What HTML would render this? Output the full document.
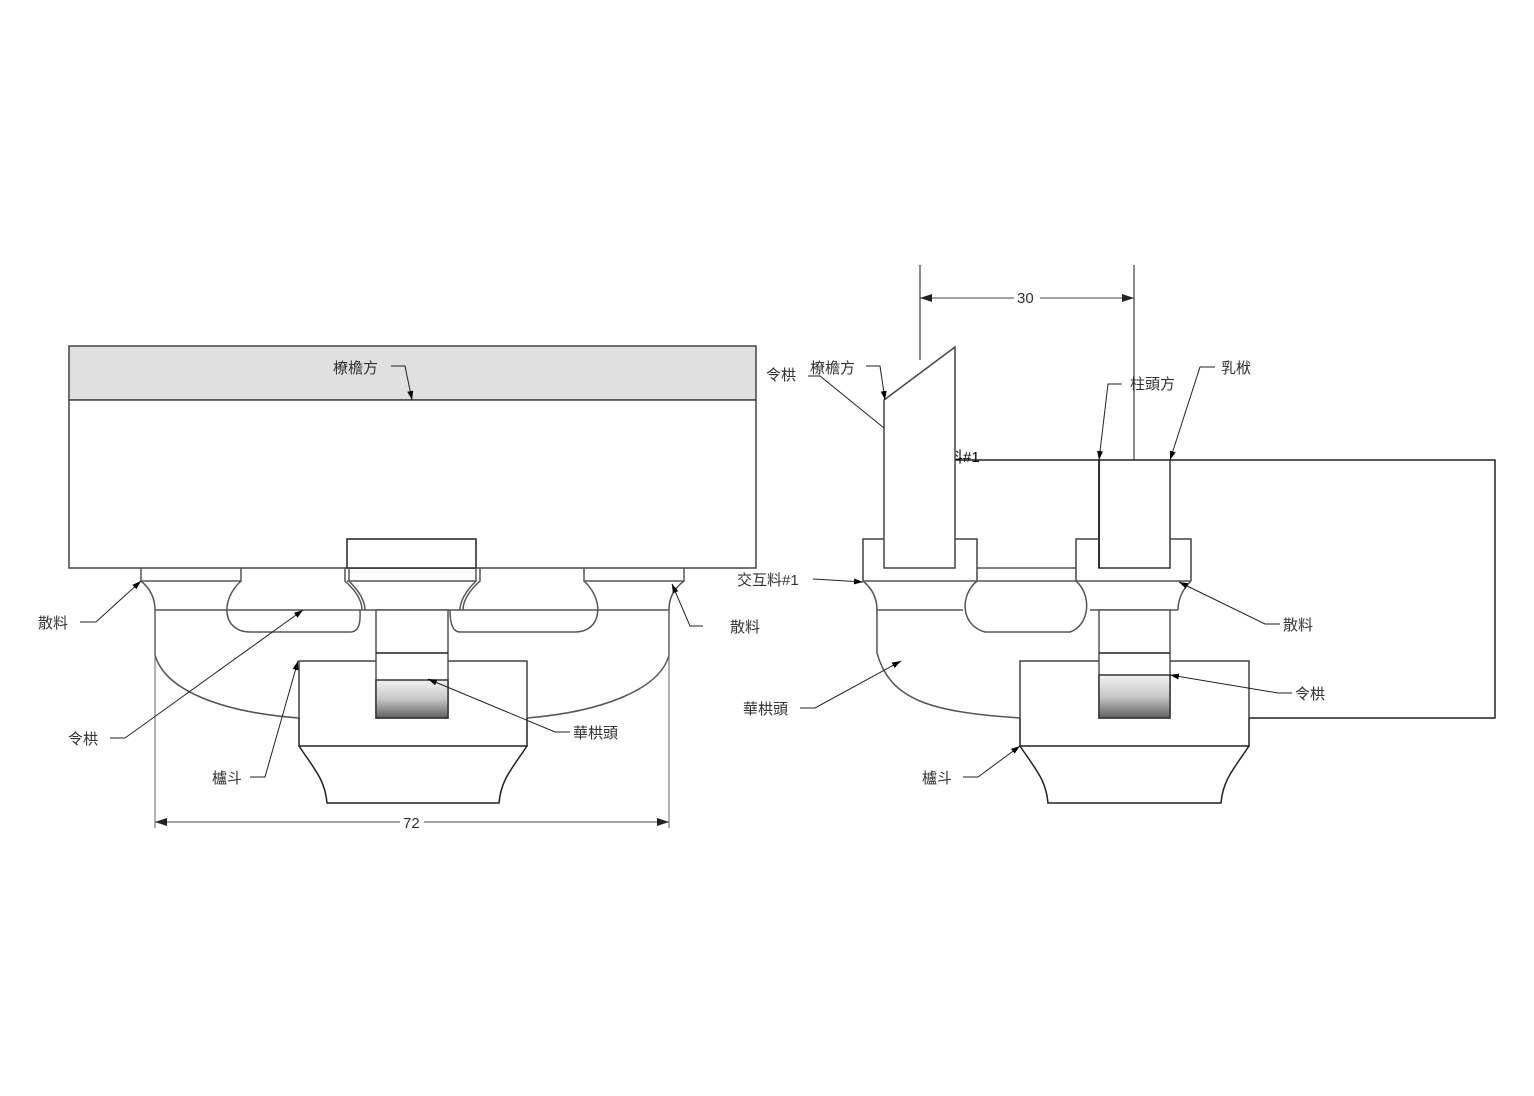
<!DOCTYPE html>
<html><head><meta charset="utf-8"><style>
html,body{margin:0;padding:0;background:#fff}
svg{display:block}
text{font-family:"Liberation Sans","Noto Sans CJK TC",sans-serif;font-size:15px;fill:#333}
</style></head><body>
<svg width="1534" height="1096" viewBox="0 0 1534 1096" xmlns="http://www.w3.org/2000/svg">
<defs>
<marker id="a" markerWidth="10" markerHeight="8" refX="9" refY="4" orient="auto" markerUnits="userSpaceOnUse"><path d="M0,1 L9,4 L0,7 z" fill="#000"/></marker>
<marker id="as" markerWidth="13" markerHeight="10" refX="12" refY="5" orient="auto-start-reverse" markerUnits="userSpaceOnUse"><path d="M0,1 L12,5 L0,9 z" fill="#222"/></marker>
<linearGradient id="g" x1="0" y1="0" x2="0" y2="1"><stop offset="0" stop-color="#f2f2f2"/><stop offset="0.5" stop-color="#c8c8c8"/><stop offset="1" stop-color="#606060"/></linearGradient>
</defs>
<g fill="none" stroke="#555" stroke-width="1.5">
<rect x="69" y="346" width="687" height="54" fill="#e0e0e0" stroke="#444"/>
<rect x="69" y="400" width="687" height="168" fill="#fff" stroke="#444"/>
<rect x="347" y="539" width="129" height="29" fill="#fff" stroke="#222"/>
<path d="M155,610 V655 C165,690 220,712 299,718"/>
<path d="M669,610 V655 C660,690 600,712 527,718"/>
<path d="M241,581 C220,600 222,632 250,632 H350 C362,632 360,615 360,610"/>
<path d="M584,581 C605,600 602,632 575,632 H460 C450,632 450,615 450,610"/>
<path d="M141,568 V581 H241 V568"/>
<path d="M141,581 C152,590 155,600 155,610"/>
<path d="M584,568 V581 H684 V568"/>
<path d="M684,581 C672,590 669,600 669,610"/>
<path d="M345,568 V581 C355,590 362,600 362,610"/>
<path d="M349,568 V581 C358,590 365,600 365,610"/>
<path d="M480,568 V581 C470,590 463,600 463,610"/>
<path d="M476,568 V581 C467,590 460,600 460,610"/>
<line x1="347" y1="581" x2="476" y2="581"/>
<line x1="155" y1="610" x2="669" y2="610"/>
<rect x="376" y="610" width="72" height="108" fill="#fff"/>
<line x1="376" y1="653" x2="448" y2="653" stroke="#222"/>
<rect x="376" y="680" width="72" height="38" fill="url(#g)" stroke="#333"/>
<path d="M299,718 V661 H376 M448,661 H527 V718" stroke="#444"/>
<path d="M299,718 V746 H527 V718" stroke="#222"/>
<path d="M299,746 C315,770 325,780 327,803 H499 C501,780 511,770 527,746" stroke="#222"/>
<line x1="155" y1="610" x2="155" y2="828" stroke="#666" stroke-width="1"/>
<line x1="669" y1="610" x2="669" y2="828" stroke="#666" stroke-width="1"/>
<line x1="400" y1="822" x2="155" y2="822" stroke="#444" stroke-width="1" marker-end="url(#as)"/>
<line x1="424" y1="822" x2="669" y2="822" stroke="#444" stroke-width="1" marker-end="url(#as)"/>

<line x1="920" y1="265" x2="920" y2="360" stroke="#666"/>
<line x1="1134" y1="265" x2="1134" y2="460" stroke="#666"/>
<line x1="1014" y1="298" x2="920" y2="298" stroke="#444" stroke-width="1" marker-end="url(#as)"/>
<line x1="1040" y1="298" x2="1134" y2="298" stroke="#444" stroke-width="1" marker-end="url(#as)"/>
<path d="M955,460 H1495 V718 H1249" stroke="#222"/>
<path d="M1099,460 V568 H1170 V460" stroke="#333"/>
<line x1="1099" y1="460" x2="1099" y2="568" stroke="#111"/>
</g>
<text x="948" y="462" font-size="13" style="fill:#000">料#1</text>
<g fill="none" stroke="#555" stroke-width="1.5">
<polygon points="884,400 955,347 955,568 884,568" fill="#fff" stroke="#444"/>
<path d="M863,581 V539 H884 M955,539 H977 V581" stroke="#444"/>
<path d="M1076,581 V539 H1099 M1170,539 H1191 V581" stroke="#444"/>
<line x1="977" y1="568" x2="1076" y2="568"/>
<line x1="863" y1="581" x2="1191" y2="581"/>
<path d="M863,581 C874,590 877,600 877,610"/>
<path d="M1191,581 C1182,590 1178,600 1178,610"/>
<path d="M977,581 C960,595 960,625 985,632 H1070 C1090,625 1092,595 1076,581"/>
<path d="M877,610 H963 M1090,610 H1178"/>
<path d="M877,610 V653 C890,700 930,712 1020,718"/>
<rect x="1099" y="610" width="71" height="108" fill="#fff"/>
<line x1="1099" y1="653" x2="1170" y2="653" stroke="#222"/>
<rect x="1099" y="675" width="71" height="43" fill="url(#g)" stroke="#333"/>
<path d="M1020,718 V661 H1099 M1170,661 H1249 V718" stroke="#444"/>
<path d="M1020,718 V746 H1249 V718" stroke="#222"/>
<path d="M1020,746 C1036,770 1046,780 1048,803 H1221 C1223,780 1233,770 1249,746" stroke="#222"/>
</g>
<g fill="none" stroke="#222" stroke-width="1">
<path d="M391,366 H405 L412,400" marker-end="url(#a)"/>
<path d="M80,622 H96 L141,581" marker-end="url(#a)"/>
<path d="M703,626 H690 L672,584" marker-end="url(#a)"/>
<path d="M110,738 H125 L303,610" marker-end="url(#a)"/>
<path d="M570,732 H555 L428,679" marker-end="url(#a)"/>
<path d="M250,777 H265 L298,661" marker-end="url(#a)"/>
<path d="M808,376 H820 L884,428" />
<path d="M866,366 H880 L885,400" marker-end="url(#a)"/>
<path d="M1122,384 H1108 L1099,460" marker-end="url(#a)"/>
<path d="M1215,367 H1200 L1170,460" marker-end="url(#a)"/>
<path d="M813,579 L863,582" marker-end="url(#a)"/>
<path d="M1280,624 H1265 L1179,582" marker-end="url(#a)"/>
<path d="M800,708 H815 L901,661" marker-end="url(#a)"/>
<path d="M1292,693 H1278 L1170,675" marker-end="url(#a)"/>
<path d="M963,777 H978 L1020,746" marker-end="url(#a)"/>
</g>
<g>
<text x="333" y="373">橑檐方</text>
<text x="38" y="628">散料</text>
<text x="730" y="632">散料</text>
<text x="68" y="744">令栱</text>
<text x="573" y="738">華栱頭</text>
<text x="212" y="783">櫨斗</text>
<text x="403" y="828">72</text>
<text x="1017" y="303">30</text>
<text x="766" y="380">令栱</text>
<text x="810" y="373">橑檐方</text>
<text x="1130" y="389">柱頭方</text>
<text x="1221" y="373">乳栿</text>
<text x="737" y="585">交互料#1</text>
<text x="1283" y="630">散料</text>
<text x="743" y="714">華栱頭</text>
<text x="1295" y="699">令栱</text>
<text x="922" y="783">櫨斗</text>
</g>
</svg>
</body></html>
